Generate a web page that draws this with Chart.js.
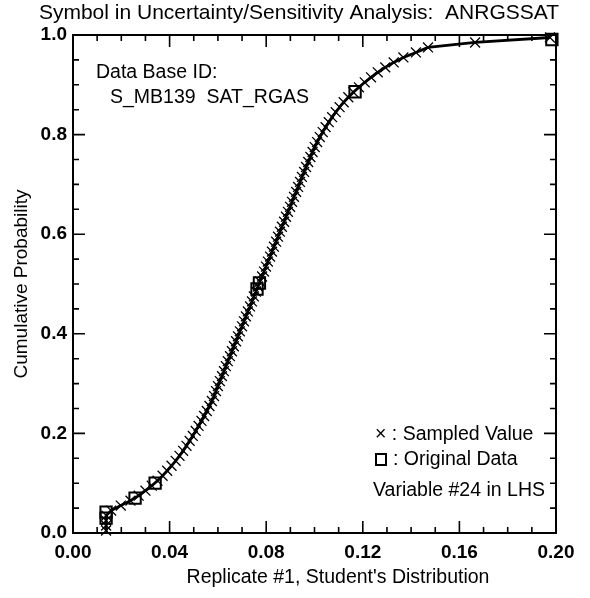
<!DOCTYPE html>
<html>
<head>
<meta charset="utf-8">
<script src="https://cdn.jsdelivr.net/npm/chart.js@4.4.0/dist/chart.umd.min.js"></script>
<style>
  html,body{margin:0;padding:0;background:#fff;}
  #wrap{width:590px;height:598px;}
</style>
</head>
<body>
<div id="wrap"><canvas id="chartCDF"></canvas></div>
<script>
const sampledX = [
  0.0137,0.0137,0.0137,0.0138,0.0158,0.0198,0.0238,0.0272,0.0300,0.0326,
  0.0350,0.0371,0.0390,0.0408,0.0425,0.0441,0.0456,0.0470,0.0483,0.0496,
  0.0508,0.0520,0.0532,0.0543,0.0554,0.0565,0.0575,0.0584,0.0592,0.0600,
  0.0608,0.0617,0.0625,0.0633,0.0641,0.0650,0.0658,0.0666,0.0675,0.0683,
  0.0691,0.0700,0.0708,0.0716,0.0724,0.0733,0.0741,0.0749,0.0758,0.0766,
  0.0774,0.0783,0.0791,0.0799,0.0807,0.0816,0.0824,0.0832,0.0841,0.0849,
  0.0857,0.0865,0.0874,0.0882,0.0890,0.0899,0.0907,0.0915,0.0924,0.0932,
  0.0940,0.0948,0.0957,0.0965,0.0974,0.0983,0.0992,0.1001,0.1011,0.1022,
  0.1034,0.1046,0.1059,0.1073,0.1088,0.1104,0.1121,0.1140,0.1161,0.1184,
  0.1208,0.1234,0.1262,0.1293,0.1328,0.1368,0.1420,0.1470,0.1665,0.1975
];
const sampledP = [
  0.005,0.015,0.025,0.035,0.045,0.055,0.065,0.075,0.085,0.095,
  0.105,0.115,0.125,0.135,0.145,0.155,0.165,0.175,0.185,0.195,
  0.205,0.215,0.225,0.235,0.245,0.255,0.265,0.275,0.285,0.295,
  0.305,0.315,0.325,0.335,0.345,0.355,0.365,0.375,0.385,0.395,
  0.405,0.415,0.425,0.435,0.445,0.455,0.465,0.475,0.485,0.495,
  0.505,0.515,0.525,0.535,0.545,0.555,0.565,0.575,0.585,0.595,
  0.605,0.615,0.625,0.635,0.645,0.655,0.665,0.675,0.685,0.695,
  0.705,0.715,0.725,0.735,0.745,0.755,0.765,0.775,0.785,0.795,
  0.805,0.815,0.825,0.835,0.845,0.855,0.865,0.875,0.885,0.895,
  0.905,0.915,0.925,0.935,0.945,0.955,0.965,0.975,0.985,0.995
];
// original data (squares)
const originalX = [0.0137,0.0137,0.0257,0.0340,0.0762,0.0772,0.1168,0.1983];
const originalP = [0.030,0.042,0.070,0.100,0.490,0.502,0.886,0.991];

const xTickValues = [0, 0.04, 0.08, 0.12, 0.16, 0.20];
const yTickValues = [0, 0.2, 0.4, 0.6, 0.8, 1.0];
const xMinorStep = 0.01;
const yMinorStep = 0.05;

const FONT = '"Liberation Sans", Arial, Helvetica, sans-serif';

function toPoints(xs, ys){
  return xs.map((v, i) => ({x: v, y: ys[i]}));
}

function isMajor(v, list){
  return list.some(t => Math.abs(t - v) < 1e-9);
}

// box frame + inward tick marks on all four sides
const frameTicks = {
  id: 'frameTicks',
  afterDatasetsDraw(chart){
    const {ctx, chartArea: a, scales: {x, y}} = chart;
    ctx.save();
    ctx.strokeStyle = '#000';
    ctx.lineWidth = 2;
    ctx.strokeRect(a.left, a.top, a.right - a.left, a.bottom - a.top);
    ctx.lineWidth = 1.6;
    ctx.beginPath();
    for(let i = 1; i < 20; i++){
      const v = Math.round(i * xMinorStep * 1000) / 1000;
      const px = x.getPixelForValue(v);
      const len = isMajor(v, xTickValues) ? 12 : 6;
      ctx.moveTo(px, a.bottom); ctx.lineTo(px, a.bottom - len);
      ctx.moveTo(px, a.top); ctx.lineTo(px, a.top + len);
    }
    for(let i = 1; i < 20; i++){
      const v = Math.round(i * yMinorStep * 1000) / 1000;
      const py = y.getPixelForValue(v);
      const len = isMajor(v, yTickValues) ? 12 : 6;
      ctx.moveTo(a.left, py); ctx.lineTo(a.left + len, py);
      ctx.moveTo(a.right, py); ctx.lineTo(a.right - len, py);
    }
    ctx.stroke();
    ctx.restore();
  }
};

// title, x axis title and text notes
const notes = {
  id: 'notes',
  afterDraw(chart){
    const ctx = chart.ctx;
    ctx.save();
    ctx.fillStyle = '#000';
    ctx.textBaseline = 'middle';
    ctx.textAlign = 'center';
    ctx.font = '21px ' + FONT;
    ctx.fillText('Symbol in Uncertainty/Sensitivity Analysis:  ANRGSSAT', 299, 13);
    ctx.font = '19.5px ' + FONT;
    ctx.fillText("Replicate #1, Student's Distribution", 338, 578);
    ctx.textAlign = 'left';
    ctx.font = '19.5px ' + FONT;
    ctx.fillText('Data Base ID:', 96, 73);
    ctx.fillText('S_MB139  SAT_RGAS', 110, 98);
    ctx.fillText('\u00d7 : Sampled Value', 375, 435);
    ctx.fillText(': Original Data', 393, 460);
    ctx.fillText('Variable #24 in LHS', 373, 491);
    ctx.strokeStyle = '#000';
    ctx.lineWidth = 2;
    ctx.strokeRect(376, 454, 10, 11);
    ctx.restore();
  }
};

new Chart(document.getElementById('chartCDF').getContext('2d'), {
  type: 'scatter',
  data: {
    datasets: [
      {
        label: 'Sampled Value',
        data: toPoints(sampledX, sampledP),
        showLine: true,
        borderColor: '#000',
        borderWidth: 2.8,
        pointStyle: 'crossRot',
        pointRadius: 7,
        pointBorderWidth: 1.3,
        pointBorderColor: '#000',
        backgroundColor: '#000',
        tension: 0,
        clip: false
      },
      {
        label: 'Original Data',
        data: toPoints(originalX, originalP),
        showLine: false,
        pointStyle: 'rect',
        pointRadius: 8,
        pointBorderWidth: 2,
        pointBorderColor: '#000',
        backgroundColor: 'rgba(0,0,0,0)',
        clip: false
      }
    ]
  },
  options: {
    responsive: true,
    maintainAspectRatio: false,
    animation: false,
    layout: { padding: { left: 0, right: 34, top: 35, bottom: 0 } },
    plugins: {
      legend: { display: false },
      tooltip: { enabled: false },
      title: { display: false }
    },
    scales: {
      x: {
        type: 'linear',
        min: 0, max: 0.2,
        grid: { display: false, drawTicks: false },
        border: { display: false },
        afterBuildTicks: s => { s.ticks = xTickValues.map(v => ({value: v})); },
        afterFit: s => { s.height = 65; },
        ticks: {
          autoSkip: false, maxRotation: 0, padding: 8, color: '#000',
          font: { family: FONT, size: 19, weight: 'bold' },
          callback: v => Number(v).toFixed(2)
        },
        title: { display: false }
      },
      y: {
        type: 'linear',
        min: 0, max: 1,
        grid: { display: false, drawTicks: false },
        border: { display: false },
        afterBuildTicks: s => { s.ticks = yTickValues.map(v => ({value: v})); },
        afterFit: s => { s.width = 73; },
        ticks: {
          autoSkip: false, padding: 6, color: '#000',
          font: { family: FONT, size: 19, weight: 'bold' },
          callback: v => Number(v).toFixed(1)
        },
        title: {
          display: true, text: 'Cumulative Probability', color: '#000',
          font: { family: FONT, size: 19, lineHeight: 1.2 },
          padding: { top: 10, bottom: 0 }
        }
      }
    }
  },
  plugins: [frameTicks, notes]
});
</script>
</body>
</html>
